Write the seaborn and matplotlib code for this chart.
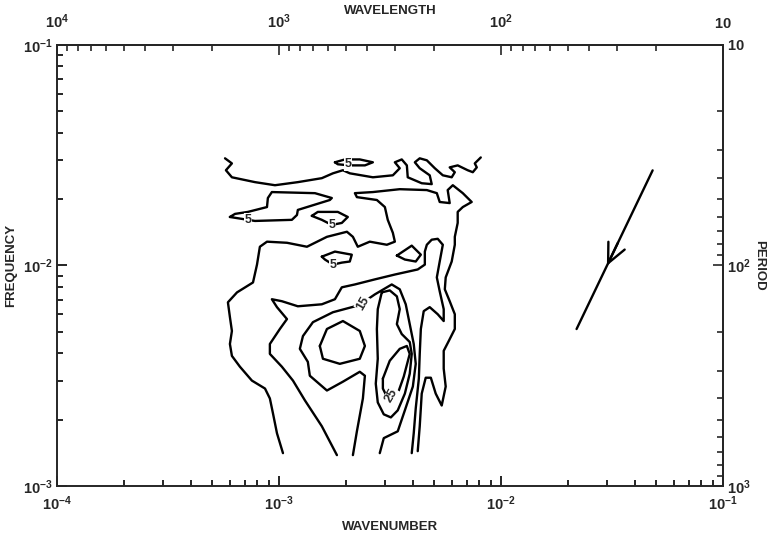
import numpy as np
import pandas as pd
import matplotlib
matplotlib.use("Agg")
import matplotlib.pyplot as plt
from matplotlib.ticker import LogLocator, NullFormatter
import seaborn as sns

# Contour paths of spectral power, as (log10 wavenumber, log10 frequency)
contour_top = [(-3.243, -1.514), (-3.212, -1.537), (-3.239, -1.568), (-3.212, -1.600), (-3.108, -1.622),
               (-3.018, -1.636), (-2.915, -1.622), (-2.807, -1.604), (-2.757, -1.582), (-2.712, -1.568),
               (-2.681, -1.582), (-2.577, -1.600), (-2.487, -1.591), (-2.456, -1.559), (-2.478, -1.532),
               (-2.447, -1.519), (-2.424, -1.546), (-2.420, -1.600), (-2.357, -1.627), (-2.312, -1.631),
               (-2.321, -1.591), (-2.366, -1.559), (-2.388, -1.532), (-2.366, -1.514), (-2.334, -1.523),
               (-2.298, -1.559), (-2.262, -1.591), (-2.222, -1.600), (-2.208, -1.577), (-2.231, -1.555),
               (-2.195, -1.546), (-2.150, -1.568), (-2.127, -1.577), (-2.109, -1.555), (-2.118, -1.537),
               (-2.091, -1.510)]

loop5_top = [(-2.748, -1.532), (-2.703, -1.519), (-2.636, -1.519), (-2.577, -1.532), (-2.613, -1.546),
             (-2.681, -1.546), (-2.735, -1.541), (-2.748, -1.532)]

loop5_left = [(-3.221, -1.780), (-3.198, -1.766), (-3.140, -1.757), (-3.054, -1.735), (-3.050, -1.694),
              (-3.032, -1.667), (-2.838, -1.672), (-2.762, -1.694), (-2.771, -1.703), (-2.915, -1.748),
              (-2.919, -1.771), (-2.942, -1.793), (-3.108, -1.798), (-3.221, -1.780)]

loop5_mid = [(-2.852, -1.775), (-2.825, -1.757), (-2.735, -1.757), (-2.690, -1.780), (-2.717, -1.807),
             (-2.762, -1.816), (-2.807, -1.793), (-2.852, -1.775)]

loop5_low = [(-2.807, -1.960), (-2.748, -1.937), (-2.672, -1.951), (-2.681, -1.982), (-2.717, -1.987),
             (-2.757, -1.996), (-2.793, -1.973), (-2.807, -1.960)]

loop_diamond = [(-2.469, -1.955), (-2.402, -1.910), (-2.361, -1.951), (-2.384, -1.982), (-2.433, -1.973),
                (-2.469, -1.955)]

contour_outer = [(-2.982, -2.851), (-3.009, -2.761), (-3.027, -2.671), (-3.041, -2.603), (-3.063, -2.558),
                 (-3.122, -2.522), (-3.176, -2.459), (-3.212, -2.410), (-3.221, -2.356), (-3.212, -2.297),
                 (-3.221, -2.234), (-3.230, -2.167), (-3.189, -2.122), (-3.117, -2.077), (-3.099, -1.996),
                 (-3.086, -1.915), (-3.054, -1.892), (-2.964, -1.897), (-2.874, -1.915), (-2.784, -1.870),
                 (-2.694, -1.847), (-2.667, -1.870), (-2.645, -1.915), (-2.591, -1.892), (-2.514, -1.906),
                 (-2.478, -1.892), (-2.487, -1.852), (-2.510, -1.793), (-2.523, -1.735), (-2.559, -1.703),
                 (-2.649, -1.690), (-2.658, -1.672), (-2.577, -1.667), (-2.456, -1.654), (-2.334, -1.658),
                 (-2.289, -1.672), (-2.276, -1.712), (-2.231, -1.717), (-2.240, -1.658), (-2.217, -1.636),
                 (-2.172, -1.672), (-2.132, -1.712), (-2.172, -1.735), (-2.195, -1.757), (-2.195, -1.807),
                 (-2.208, -1.870), (-2.208, -1.906), (-2.222, -1.982), (-2.249, -2.054), (-2.253, -2.108),
                 (-2.231, -2.162), (-2.208, -2.221), (-2.208, -2.288), (-2.235, -2.342), (-2.258, -2.387),
                 (-2.258, -2.468), (-2.249, -2.549), (-2.267, -2.635), (-2.294, -2.581), (-2.316, -2.509),
                 (-2.339, -2.509), (-2.357, -2.581), (-2.366, -2.729), (-2.375, -2.842)]

contour_10 = [(-2.739, -2.860), (-2.807, -2.729), (-2.883, -2.612), (-2.937, -2.522), (-2.987, -2.459),
              (-3.041, -2.401), (-3.041, -2.356), (-2.996, -2.288), (-2.964, -2.243), (-3.009, -2.189),
              (-3.032, -2.153), (-2.987, -2.162), (-2.915, -2.185), (-2.807, -2.176), (-2.748, -2.153),
              (-2.717, -2.099), (-2.658, -2.086), (-2.568, -2.063), (-2.478, -2.041), (-2.375, -2.018),
              (-2.343, -1.996), (-2.343, -1.937), (-2.334, -1.906), (-2.312, -1.883), (-2.285, -1.879),
              (-2.262, -1.906), (-2.276, -1.982), (-2.289, -2.054), (-2.276, -2.117), (-2.258, -2.198),
              (-2.258, -2.252), (-2.285, -2.221), (-2.321, -2.189), (-2.348, -2.207), (-2.361, -2.288),
              (-2.366, -2.401), (-2.370, -2.513), (-2.384, -2.648), (-2.393, -2.761), (-2.402, -2.851)]

contour_15 = [(-2.667, -2.860), (-2.649, -2.752), (-2.622, -2.603), (-2.613, -2.500), (-2.636, -2.482),
              (-2.712, -2.527), (-2.784, -2.567), (-2.861, -2.500), (-2.870, -2.437), (-2.906, -2.378),
              (-2.892, -2.320), (-2.847, -2.257), (-2.757, -2.212), (-2.672, -2.189), (-2.636, -2.180),
              (-2.600, -2.153), (-2.568, -2.131), (-2.492, -2.086), (-2.456, -2.108), (-2.429, -2.176),
              (-2.411, -2.266), (-2.393, -2.356), (-2.384, -2.446), (-2.397, -2.549), (-2.433, -2.657),
              (-2.465, -2.752), (-2.528, -2.783), (-2.546, -2.851)]

loop20_left = [(-2.816, -2.365), (-2.784, -2.288), (-2.712, -2.252), (-2.636, -2.297), (-2.613, -2.365),
               (-2.636, -2.423), (-2.726, -2.446), (-2.802, -2.423), (-2.816, -2.365)]

loop20_right = [(-2.537, -2.122), (-2.501, -2.113), (-2.469, -2.140), (-2.456, -2.198), (-2.469, -2.266),
                (-2.447, -2.311), (-2.411, -2.347), (-2.402, -2.401), (-2.411, -2.491), (-2.433, -2.581),
                (-2.465, -2.657), (-2.496, -2.689), (-2.528, -2.675), (-2.555, -2.621), (-2.564, -2.536),
                (-2.555, -2.423), (-2.559, -2.288), (-2.555, -2.198), (-2.537, -2.122)]

loop25 = [(-2.532, -2.513), (-2.501, -2.432), (-2.456, -2.378), (-2.424, -2.365), (-2.411, -2.401),
          (-2.438, -2.504), (-2.465, -2.581), (-2.510, -2.603), (-2.532, -2.558), (-2.532, -2.513)]

# Contour labels: text, log10 wavenumber, log10 frequency, rotation
label_text = ["5", "5", "5", "5", "15", "25"]
label_logk = [-2.690, -3.140, -2.762, -2.757, -2.622, -2.492]
label_logf = [-1.541, -1.793, -1.816, -1.996, -2.171, -2.590]
label_rot = [0, 0, 0, 0, 60, 60]

# Propagation arrow (wavenumber, frequency)
arrow_k = [0.0482, 0.0219]
arrow_f = [0.0270, 0.00515]
arrow_head_k = 0.030

# Axis ticks
wavenumber_ticks = [1e-4, 1e-3, 1e-2, 1e-1]
wavenumber_labels = [r"$10^{-4}$", r"$10^{-3}$", r"$10^{-2}$", r"$10^{-1}$"]
frequency_ticks = [1e-3, 1e-2, 1e-1]
frequency_labels = [r"$10^{-3}$", r"$10^{-2}$", r"$10^{-1}$"]
wavelength_ticks = [1e4, 1e3, 1e2, 1e1]
wavelength_labels = [r"$10^{4}$", r"$10^{3}$", r"$10^{2}$", r"$10$"]
period_ticks = [1e1, 1e2, 1e3]
period_labels = [r"$10$", r"$10^{2}$", r"$10^{3}$"]

paths = {
    "top": contour_top, "l5a": loop5_top, "l5b": loop5_left, "l5c": loop5_mid, "l5d": loop5_low,
    "dia": loop_diamond, "outer": contour_outer, "c10": contour_10, "c15": contour_15,
    "l20a": loop20_left, "l20b": loop20_right, "l25": loop25,
}
rows = []
for name, pts in paths.items():
    for i, (lk, lf) in enumerate(pts):
        rows.append({"path": name, "order": i, "wavenumber": 10 ** lk, "frequency": 10 ** lf})
df = pd.DataFrame(rows)

sns.set_style("ticks")
plt.rcParams["font.family"] = ["Liberation Sans", "DejaVu Sans"]
plt.rcParams["mathtext.fontset"] = "custom"
plt.rcParams["mathtext.rm"] = "Liberation Sans"
plt.rcParams["mathtext.bf"] = "Liberation Sans:bold"
plt.rcParams["mathtext.default"] = "bf"
plt.rcParams["axes.linewidth"] = 1.4

fig = plt.figure(figsize=(7.75, 5.33), dpi=100)
ax = fig.add_axes([0.0735, 0.0882, 0.8594, 0.8274])
ax.set_xscale("log")
ax.set_yscale("log")
ax.set_xlim(1e-4, 1e-1)
ax.set_ylim(1e-3, 1e-1)

sns.lineplot(data=df, x="wavenumber", y="frequency", units="path", estimator=None, sort=False,
             color="black", lw=1.7, ax=ax, legend=False)
for line in ax.lines:
    line.set_solid_joinstyle("round")
    line.set_solid_capstyle("round")

for t, lk, lf, r in zip(label_text, label_logk, label_logf, label_rot):
    ax.text(10 ** lk, 10 ** lf, t, fontsize=9, fontweight="bold", rotation=r,
            ha="center", va="center", zorder=5,
            bbox=dict(boxstyle="square,pad=0.05", fc="white", ec="none"))

# arrow along a constant-slope line in log space
arr = pd.DataFrame({"wavenumber": arrow_k, "frequency": arrow_f})
sns.lineplot(data=arr, x="wavenumber", y="frequency", sort=False, estimator=None,
             color="black", lw=1.7, ax=ax, legend=False)
lk_a, lf_a = np.log10(arrow_k), np.log10(arrow_f)
slope = (lf_a[1] - lf_a[0]) / (lk_a[1] - lk_a[0])
head_f = 10 ** (lf_a[0] + slope * (np.log10(arrow_head_k) - lk_a[0]))
tail_k = arrow_head_k * 1.12
tail_f = 10 ** (lf_a[0] + slope * (np.log10(tail_k) - lk_a[0]))
ax.annotate("", xy=(arrow_head_k, head_f), xytext=(tail_k, tail_f),
            arrowprops=dict(arrowstyle="->,head_length=1.4,head_width=0.65", lw=1.7,
                            color="black", shrinkA=0, shrinkB=0))

tick_kw = dict(fontsize=10.5, fontweight="bold")
ax.set_xticks(wavenumber_ticks, labels=wavenumber_labels, **tick_kw)
ax.set_yticks(frequency_ticks, labels=frequency_labels, **tick_kw)
ax.xaxis.set_minor_locator(LogLocator(base=10, subs=np.arange(2, 10), numticks=20))
ax.yaxis.set_minor_locator(LogLocator(base=10, subs=np.arange(2, 10), numticks=20))
ax.xaxis.set_minor_formatter(NullFormatter())
ax.yaxis.set_minor_formatter(NullFormatter())
ax.tick_params(which="both", direction="in", top=False, right=False, width=1.2, color="black")
ax.tick_params(axis="x", pad=6)
ax.tick_params(axis="y", pad=3)
ax.tick_params(which="major", length=7)
ax.tick_params(which="minor", length=4)
ax.set_xlabel("WAVENUMBER", fontsize=9.5, fontweight="bold", labelpad=6)
ax.set_ylabel("FREQUENCY", fontsize=9.5, fontweight="bold", labelpad=4)


def inverse(v):
    v = np.asarray(v, dtype=float)
    with np.errstate(divide="ignore"):
        return 1.0 / v


secx = ax.secondary_xaxis("top", functions=(inverse, inverse))
secx.set_xticks(wavelength_ticks, labels=wavelength_labels, **tick_kw)
secx.xaxis.set_minor_locator(LogLocator(base=10, subs=np.arange(2, 10), numticks=20))
secx.xaxis.set_minor_formatter(NullFormatter())
secx.tick_params(which="both", direction="in", width=1.2, pad=10)
secx.tick_params(which="major", length=7)
secx.tick_params(which="minor", length=4)
secx.set_xlabel("WAVELENGTH", fontsize=9.5, fontweight="bold", labelpad=-1)

secy = ax.secondary_yaxis("right", functions=(inverse, inverse))
secy.set_yticks(period_ticks, labels=period_labels, **tick_kw)
secy.yaxis.set_minor_locator(LogLocator(base=10, subs=np.arange(2, 10), numticks=20))
secy.yaxis.set_minor_formatter(NullFormatter())
secy.tick_params(which="both", direction="in", width=1.2, pad=3)
secy.tick_params(which="major", length=7)
secy.tick_params(which="minor", length=4)
secy.set_ylabel("PERIOD", fontsize=9.5, fontweight="bold", rotation=-90, labelpad=10)

fig.savefig("out.png", dpi=100, facecolor="white")
